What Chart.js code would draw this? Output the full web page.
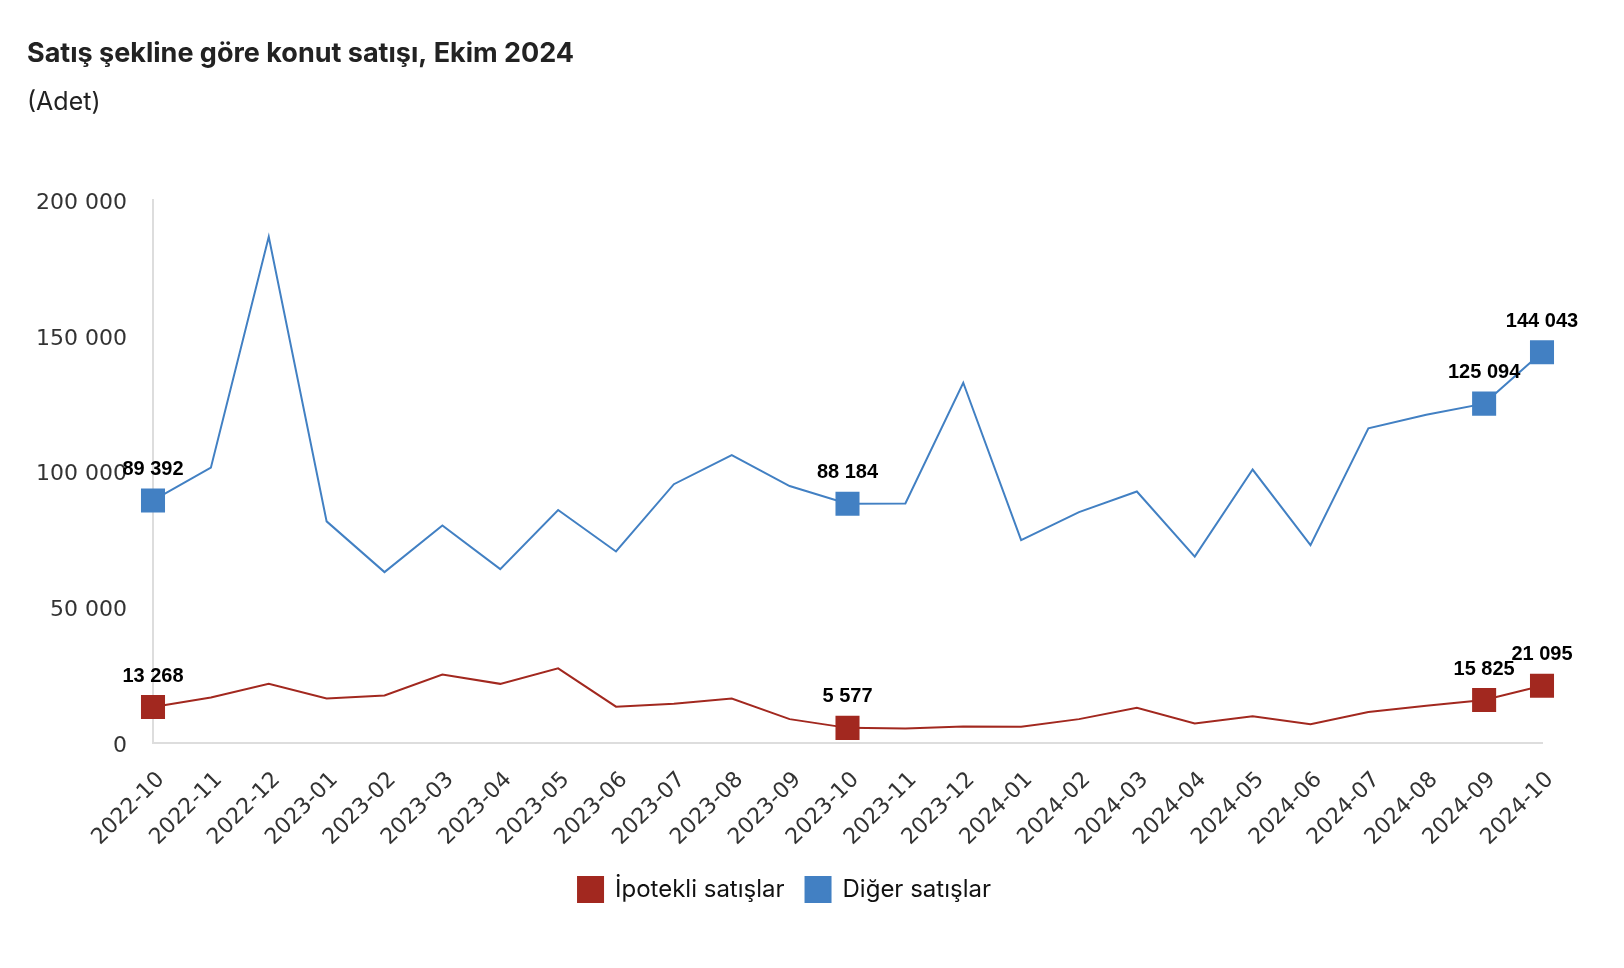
<!DOCTYPE html>
<html>
<head>
<meta charset="utf-8">
<script src="https://cdn.jsdelivr.net/npm/chart.js@4.4.0/dist/chart.umd.min.js"></script>
<style>
  body { margin: 0; background: #fff; }
  #wrap { width: 1624px; height: 968px; }
</style>
</head>
<body>
<div id="wrap"><canvas id="c"></canvas></div>
<script>
const months = ['2022-10', '2022-11', '2022-12', '2023-01', '2023-02', '2023-03', '2023-04', '2023-05',
  '2023-06', '2023-07', '2023-08', '2023-09', '2023-10', '2023-11', '2023-12', '2024-01', '2024-02',
  '2024-03', '2024-04', '2024-05', '2024-06', '2024-07', '2024-08', '2024-09', '2024-10'];

// İpotekli satışlar
const ipotekli = [13268, 16800, 21800, 16400, 17500, 25200, 21800, 27500, 13400, 14500, 16400, 8800,
  5577, 5300, 6100, 6000, 8800, 13000, 7200, 9900, 6900, 11400, 13700, 15825, 21095];

// Diğer satışlar
const diger = [89392, 101500, 186600, 81700, 63000, 80200, 64100, 85900, 70600, 95400, 106100, 94700,
  88184, 88300, 132800, 74800, 85100, 92700, 68700, 100800, 72900, 116000, 121000, 125094, 144043];

// points that get a marker and a value label
const marked = [0, 12, 23, 24];

const yTicks = [0, 50000, 100000, 150000, 200000];

const red = '#a2281f';
const blue = '#4280c3';

const fmt = v => String(v).replace(/\B(?=(\d{3})+(?!\d))/g, ' ');
const radii = months.map((m, i) => marked.includes(i) ? 17 : 0);

const valueLabels = {
  id: 'valueLabels',
  afterDatasetsDraw(chart) {
    const ctx = chart.ctx;
    ctx.save();
    ctx.font = 'bold 20px "Liberation Sans", Arial, sans-serif';
    ctx.fillStyle = '#000';
    ctx.textAlign = 'center';
    ctx.textBaseline = 'middle';
    chart.data.datasets.forEach((ds, di) => {
      const meta = chart.getDatasetMeta(di);
      marked.forEach(i => {
        const p = meta.data[i];
        ctx.fillText(fmt(ds.data[i]), p.x, p.y - 31);
      });
    });
    ctx.restore();
  }
};

Chart.defaults.font.family = '"DejaVu Sans", sans-serif';

new Chart(document.getElementById('c'), {
  type: 'line',
  data: {
    labels: months,
    datasets: [
      {
        label: 'İpotekli satışlar',
        data: ipotekli,
        borderColor: red,
        backgroundColor: red,
        borderWidth: 2,
        pointStyle: 'rect',
        pointRadius: radii,
        pointBorderColor: red,
        pointBorderWidth: 0,
        tension: 0
      },
      {
        label: 'Diğer satışlar',
        data: diger,
        borderColor: blue,
        backgroundColor: blue,
        borderWidth: 2,
        pointStyle: 'rect',
        pointRadius: radii,
        pointBorderColor: blue,
        pointBorderWidth: 0,
        tension: 0
      }
    ]
  },
  options: {
    responsive: true,
    maintainAspectRatio: false,
    animation: false,
    layout: { padding: { left: 27, right: 82, top: 0, bottom: 56 } },
    plugins: {
      title: {
        display: true,
        text: 'Satış şekline göre konut satışı, Ekim 2024',
        align: 'start',
        color: '#222',
        font: { family: 'Inter', size: 27, weight: 'bold', lineHeight: 1.2 },
        padding: { top: 38, bottom: 0 }
      },
      subtitle: {
        display: true,
        text: '(Adet)',
        align: 'start',
        color: '#222',
        font: { family: 'Inter', size: 25, weight: 'normal', lineHeight: 1.2 },
        padding: { top: 17, bottom: 83 }
      },
      legend: {
        position: 'bottom',
        labels: {
          boxWidth: 25,
          boxHeight: 25,
          padding: 21,
          color: '#111',
          font: { family: 'Inter', size: 24 }
        }
      },
      tooltip: { enabled: false }
    },
    scales: {
      x: {
        offset: false,
        grid: { display: false },
        border: { display: true, color: '#dddddd', width: 2 },
        ticks: {
          autoSkip: false,
          maxRotation: 45,
          minRotation: 45,
          padding: 16,
          labelOffset: 8,
          color: '#333',
          font: { size: 22 }
        },
        afterFit(scale) { scale.height = 113; }
      },
      y: {
        min: 0,
        max: 200000,
        grid: { display: false },
        border: { display: true, color: '#dddddd', width: 2 },
        afterBuildTicks(scale) { scale.ticks = yTicks.map(v => ({ value: v })); },
        ticks: {
          padding: 18,
          labelOffset: 3,
          color: '#333',
          font: { size: 22 },
          callback: v => fmt(v)
        },
        afterFit(scale) { scale.width = 126; }
      }
    }
  },
  plugins: [valueLabels]
});
</script>
</body>
</html>
